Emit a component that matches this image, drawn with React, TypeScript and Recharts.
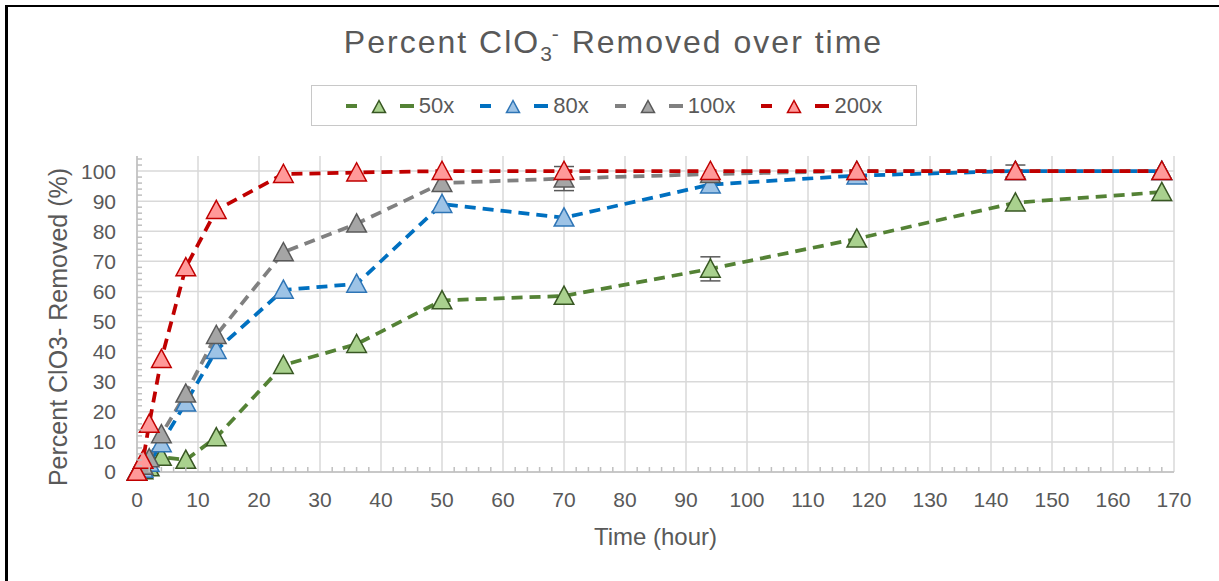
import React from 'react';
import { LineChart, Line, XAxis, YAxis, CartesianGrid, ErrorBar } from 'recharts';

const timeHours = [0, 1, 2, 4, 8, 13, 24, 36, 50, 70, 94, 118, 144, 168];
const removed50x = [0, 0.5, 1.5, 5, 4, 11.5, 35.5, 42.5, 57, 58.5, 67.5, 77.5, 89.5, 93];
const removed80x = [0, 1, 3, 9.5, 23, 40.5, 60.5, 62.5, 89, 84.5, 95.5, 98.5, 100, 100];
const removed100x = [0, 2, 4.5, 12.5, 26, 45.5, 73, 82.5, 96, 97.5, 99, 100, 100, 100];
const removed200x = [0, 4, 16, 37.5, 68, 87, 99, 99.5, 100, 100, 100, 100, 100, 100];
const err50x = [null, null, null, null, null, null, null, null, null, null, 4, null, null, null];
const err100x = [null, null, null, null, null, null, null, null, null, 4, null, null, null, null];
const err200x = [null, null, null, null, null, null, null, null, null, null, null, null, 2, null];

const xMajorTicks = [0, 10, 20, 30, 40, 50, 60, 70, 80, 90, 100, 110, 120, 130, 140, 150, 160, 170];
const yMajorTicks = [0, 10, 20, 30, 40, 50, 60, 70, 80, 90, 100];
const xAllTicks = Array.from({ length: 86 }, (_, i) => i * 2);
const yAllTicks = Array.from({ length: 53 }, (_, i) => i * 2);

const seriesLabels = ['50x', '80x', '100x', '200x'];
const seriesKeys = ['s50', 's80', 's100', 's200'];
const errKeys = ['e50', null, 'e100', 'e200'];
const lineColors = ['#548235', '#0070C0', '#808080', '#C00000'];
const markerFills = ['#A9D18E', '#9DC3E6', '#A5A5A5', '#FF9999'];
const markerStrokes = ['#385723', '#2E75B6', '#595959', '#C00000'];

const data = timeHours.map((t, i) => ({
  t,
  s50: removed50x[i],
  s80: removed80x[i],
  s100: removed100x[i],
  s200: removed200x[i],
  e50: err50x[i] ?? undefined,
  e100: err100x[i] ?? undefined,
  e200: err200x[i] ?? undefined,
}));

const FONT = '"Liberation Sans", Arial, sans-serif';
const TEXT = '#595959';
const AXIS = '#BFBFBF';

const triPoints = (cx: number, cy: number, s: number) =>
  `${cx},${cy - s} ${cx - s},${cy + s * 0.85} ${cx + s},${cy + s * 0.85}`;

const makeDot = (fill: string, stroke: string) => (p: any) => {
  const { cx, cy, index } = p;
  if (cx == null || cy == null) return <g key={`d${index}`} />;
  return (
    <polygon
      key={`d${index}`}
      points={triPoints(cx, cy, 9.8)}
      fill={fill}
      stroke={stroke}
      strokeWidth={1.5}
    />
  );
};

const XTick = (props: any) => {
  const { x, y, payload } = props;
  const v = payload.value;
  const major = xMajorTicks.includes(v);
  return (
    <g>
      {!major ? <line x1={x} y1={y} x2={x} y2={y - 5} stroke={AXIS} strokeWidth={1.5} /> : null}
      {major ? (
        <text x={x} y={y + 20} dy="0.71em" textAnchor="middle" fill={TEXT} fontSize={21} fontFamily={FONT}>
          {v}
        </text>
      ) : null}
    </g>
  );
};

const YTick = (props: any) => {
  const { x, y, payload } = props;
  const v = payload.value;
  const major = yMajorTicks.includes(v);
  return (
    <g>
      {!major ? <line x1={x} y1={y} x2={x + 5} y2={y} stroke={AXIS} strokeWidth={1.5} /> : null}
      {major ? (
        <text x={x - 21} y={y} dy="0.355em" textAnchor="end" fill={TEXT} fontSize={21} fontFamily={FONT}>
          {v}
        </text>
      ) : null}
    </g>
  );
};

const XTitle = (props: any) => {
  const { viewBox } = props;
  const cx = viewBox.x + viewBox.width / 2;
  return (
    <text x={cx} y={viewBox.y + 73} textAnchor="middle" fill={TEXT} fontSize={24} fontFamily={FONT}>
      Time (hour)
    </text>
  );
};

const YTitle = (props: any) => {
  const { viewBox } = props;
  const cx = viewBox.x + 1;
  const cy = viewBox.y + viewBox.height / 2 + 13;
  return (
    <text
      x={cx}
      y={cy}
      transform={`rotate(-90 ${cx} ${cy})`}
      textAnchor="middle"
      dominantBaseline="central"
      fill={TEXT}
      fontSize={25}
      fontFamily={FONT}
    >
      Percent ClO3-  Removed (%)
    </text>
  );
};

const LegendBox = () => (
  <div
    style={{
      position: 'absolute',
      left: 311,
      top: 85,
      width: 606,
      height: 41,
      border: '1.5px solid #C8C8C8',
      display: 'flex',
      alignItems: 'center',
      justifyContent: 'center',
      gap: 26,
      fontFamily: FONT,
      fontSize: 22,
      color: TEXT,
      boxSizing: 'border-box',
    }}
  >
    {seriesLabels.map((lab, i) => (
      <div key={lab} style={{ display: 'flex', alignItems: 'center', gap: 5 }}>
        <svg width={68} height={20}>
          <line x1={0} y1={10} x2={11} y2={10} stroke={lineColors[i]} strokeWidth={4} />
          <line x1={54} y1={10} x2={68} y2={10} stroke={lineColors[i]} strokeWidth={4} />
          <polygon points={triPoints(33, 11, 6.5)} fill={markerFills[i]} stroke={markerStrokes[i]} strokeWidth={1.5} />
        </svg>
        <span>{lab}</span>
      </div>
    ))}
  </div>
);

export default function App() {
  return (
    <div style={{ position: 'absolute', left: 0, top: 0, width: 1219, height: 581, background: '#fff' }}>
      <div
        style={{
          position: 'absolute',
          left: 5,
          top: 5,
          width: 1214,
          height: 576,
          borderTop: '2px solid #000',
          borderLeft: '3px solid #000',
          boxSizing: 'border-box',
        }}
      />
      <div
        style={{
          position: 'absolute',
          left: 0,
          width: 1219,
          top: 22,
          textAlign: 'center',
          fontFamily: FONT,
          fontSize: 32,
          color: TEXT,
          paddingLeft: 8,
          boxSizing: 'border-box',
          letterSpacing: 2,
        }}
      >
        Percent ClO<sub style={{ fontSize: 21, verticalAlign: -8, letterSpacing: 0 }}>3</sub>
        <sup style={{ fontSize: 21, verticalAlign: 12 }}>-</sup> Removed over time
      </div>
      <LegendBox />
      <div style={{ position: 'absolute', left: 0, top: 0 }}>
        <LineChart
          width={1219}
          height={581}
          data={data}
          margin={{ top: 156, right: 45, bottom: 29, left: 57 }}
        >
          <CartesianGrid
            stroke="#D9D9D9"
            strokeWidth={1.5}
            horizontalValues={yMajorTicks}
            verticalValues={xMajorTicks}
          />
          <XAxis
            dataKey="t"
            type="number"
            domain={[0, 170]}
            ticks={xAllTicks}
            interval={0}
            tickLine={false}
            tickSize={0}
            tickMargin={0}
            axisLine={{ stroke: AXIS, strokeWidth: 1.5 }}
            tick={<XTick />}
            height={80}
            label={<XTitle />}
          />
          <YAxis
            type="number"
            domain={[0, 105]}
            ticks={yAllTicks}
            interval={0}
            tickLine={false}
            tickSize={0}
            tickMargin={0}
            axisLine={{ stroke: AXIS, strokeWidth: 1.5 }}
            tick={<YTick />}
            width={80}
            label={<YTitle />}
          />
          {seriesKeys.map((k, i) => (
            <Line
              key={k}
              dataKey={k}
              name={seriesLabels[i]}
              stroke={lineColors[i]}
              strokeWidth={3.75}
              strokeDasharray="11 7"
              isAnimationActive={false}
              dot={makeDot(markerFills[i], markerStrokes[i])}
              activeDot={false}
            >
              {errKeys[i] ? (
                <ErrorBar dataKey={errKeys[i] as string} width={10} stroke="#595959" strokeWidth={1.5} direction="y" />
              ) : null}
            </Line>
          ))}
        </LineChart>
      </div>
    </div>
  );
}
